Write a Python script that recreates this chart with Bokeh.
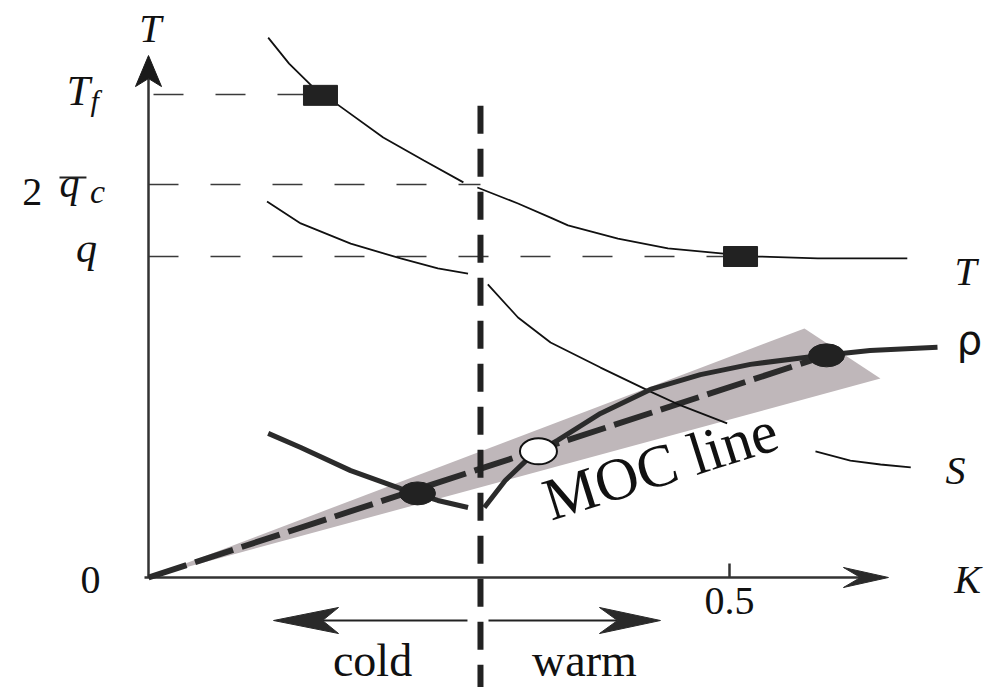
from bokeh.plotting import figure
from bokeh.models import Range1d
from bokeh.core.properties import value
from bokeh.embed import file_html
from bokeh.resources import INLINE

# ---------------- data (K on x, T on y; q = 1) ----------------
level_Tf = 1.505
level_2qc = 1.224
level_q = 1.000
K_boundary = 0.2857          # cold / warm boundary (vertical dashed line)

K_ticks = [0.5]
K_tick_labels = ["0.5"]

# T curve (thin)
K_T_cold = [0.103, 0.121, 0.142, 0.164, 0.202, 0.237, 0.271]
T_T_cold = [1.682, 1.601, 1.526, 1.470, 1.371, 1.299, 1.231]
K_T_warm = [0.283, 0.318, 0.346, 0.361, 0.404, 0.447, 0.495, 0.524, 0.576, 0.653]
T_T_warm = [1.215, 1.165, 1.121, 1.097, 1.056, 1.025, 1.009, 1.000, 0.994, 0.994]

# S curve (thin)
K_S_cold = [0.102, 0.131, 0.174, 0.217, 0.249, 0.275]
T_S_cold = [1.171, 1.103, 1.040, 0.994, 0.963, 0.947]
K_S_warm = [0.292, 0.318, 0.346, 0.389, 0.432, 0.458, 0.498]
T_S_warm = [0.913, 0.810, 0.732, 0.654, 0.579, 0.536, 0.480]
K_S_far = [0.574, 0.604, 0.630, 0.656]
T_S_far = [0.393, 0.364, 0.352, 0.343]

# rho curve (thick)
K_R_cold = [0.103, 0.131, 0.174, 0.217, 0.249, 0.275]
T_R_cold = [0.449, 0.405, 0.333, 0.277, 0.240, 0.218]
K_R_warm = [0.289, 0.307, 0.324, 0.335, 0.352, 0.389, 0.432, 0.475, 0.518, 0.570, 0.621, 0.679]
T_R_warm = [0.218, 0.302, 0.361, 0.393, 0.427, 0.511, 0.586, 0.632, 0.664, 0.688, 0.707, 0.717]

# markers
K_squares = [0.148, 0.5095]
T_squares = [1.502, 1.000]
K_filled = [0.2315, 0.5835]
T_filled = [0.262, 0.692]
K_open = [0.3356]
T_open = [0.393]

# MOC line and its shaded wedge
K_moc = [0.0, 0.5835]
T_moc = [0.0, 0.692]
K_wedge = [0.0, 0.5645, 0.6299]
T_wedge = [0.0, 0.776, 0.620]

# ---------------- figure ----------------
W, H = 997, 687
x0, x1 = -0.12737, 0.73064
y0, y1 = -0.34268, 1.79751
ux = (x1 - x0) / W   # data units per pixel
uy = (y1 - y0) / H

p = figure(width=W, height=H, x_range=Range1d(x0, x1), y_range=Range1d(y0, y1),
           output_backend="svg", toolbar_location=None, min_border=0,
           x_axis_type=None, y_axis_type=None)
p.grid.visible = False
p.outline_line_color = None
p.background_fill_color = "white"
p.border_fill_color = "white"

SERIF = value("Liberation Serif, serif")

def dart(tx, ty, direction, length, half, notch):
    # arrow head polygon (pixel sizes -> data units)
    if direction == "up":
        return ([tx, tx + half * ux, tx, tx - half * ux],
                [ty, ty - length * uy, ty - notch * uy, ty - length * uy])
    if direction == "right":
        return ([tx, tx - length * ux, tx - notch * ux, tx - length * ux],
                [ty, ty + half * uy, ty, ty - half * uy])
    return ([tx, tx + length * ux, tx + notch * ux, tx + length * ux],
            [ty, ty + half * uy, ty, ty - half * uy])

# wedge
p.patch(K_wedge, T_wedge, fill_color="#bfb7ba", line_color=None)

# guide dashed lines
p.line([0, K_squares[0] - 16 * ux], [level_Tf, level_Tf], line_color="#3a3a3a",
       line_width=1.5, line_dash="30 32", line_dash_offset=-5)
p.line([0, K_boundary], [level_2qc, level_2qc], line_color="#3a3a3a",
       line_width=1.5, line_dash="30 32")
p.line([0, K_squares[1] - 16 * ux], [level_q, level_q], line_color="#3a3a3a",
       line_width=1.5, line_dash="30 32")

# axes
p.line([0, 0], [0, 1.626 - 23 * uy], line_color="#333333", line_width=2.5)
p.line([-4 * ux, 0.6368 - 28 * ux], [0, 0], line_color="#333333", line_width=2.5)
xs, ys = dart(0, 1.626, "up", 31, 13, 23)
p.patch(xs, ys, fill_color="#1a1a1a", line_color="#1a1a1a", line_width=1)
xs, ys = dart(0.6368, 0, "right", 45, 10, 28)
p.patch(xs, ys, fill_color="#2a2a2a", line_color="#2a2a2a", line_width=1)
p.segment(x0=K_ticks, y0=[0] * len(K_ticks), x1=K_ticks, y1=[14 * uy] * len(K_ticks),
          line_color="#333333", line_width=2.5)

# MOC dashed line
p.line(K_moc, T_moc, line_color="#2b2b2b", line_width=6, line_dash="40 9")

# curves
for kk, tt in [(K_T_cold, T_T_cold), (K_T_warm, T_T_warm),
               (K_S_cold, T_S_cold), (K_S_warm, T_S_warm), (K_S_far, T_S_far)]:
    p.line(kk, tt, line_color="#111111", line_width=1.8)
for kk, tt in [(K_R_cold, T_R_cold), (K_R_warm, T_R_warm)]:
    p.line(kk, tt, line_color="#2b2b2b", line_width=5)

# vertical boundary dashed line
p.line([K_boundary, K_boundary], [1.470, y0 - 0.05], line_color="#222222",
       line_width=6, line_dash="28 15")

# markers
p.rect(K_squares, T_squares, width=34, height=20, width_units="screen",
       height_units="screen", fill_color="#222222", line_color="#222222")
p.ellipse(K_filled, T_filled, width=36, height=23, width_units="screen",
          height_units="screen", fill_color="#222222", line_color="#222222")
p.ellipse(K_open, T_open, width=37, height=26, width_units="screen",
          height_units="screen", fill_color="white", line_color="#111111", line_width=2)

# cold / warm arrows
ya = -0.134
p.line([0.1497, 0.2745], [ya, ya], line_color="#222222", line_width=2)
p.line([0.2926, 0.4036], [ya, ya], line_color="#222222", line_width=2)
xs, ys = dart(0.1076, ya, "left", 65, 13, 49)
p.patch(xs, ys, fill_color="#2a2a2a", line_color="#2a2a2a")
xs, ys = dart(0.4406, ya, "right", 61, 13, 43)
p.patch(xs, ys, fill_color="#2a2a2a", line_color="#2a2a2a")

# ---------------- texts ----------------
def txt(x, y, s, size, style="normal", align="center", font=SERIF, angle=0.0):
    p.text(x=[x], y=[y], text=[s], text_font=font, text_font_size=f"{size}px",
           text_font_style=style, text_align=align, text_baseline="middle",
           text_color="#111111", angle=angle)

txt(0.0017, 1.709, "T", 40, "italic")                     # y-axis name
txt(-0.0602, 1.516, "T", 42, "italic")                    # T_f
txt(-0.0499, 1.486, "f", 30, "italic", align="left")
txt(-0.1000, 1.202, "2", 40)                              # 2 q_c
txt(-0.0680, 1.226, "q", 40, "italic")
txt(-0.0439, 1.201, "c", 34, "italic")
p.line([-0.0766, -0.0534], [1.246, 1.246], line_color="#222222", line_width=2)
txt(-0.0534, 1.025, "q", 42, "italic")                   # q
txt(-0.0499, -0.0093, "0", 40)                            # origin
for kt, lab in zip(K_ticks, K_tick_labels):
    txt(kt, -0.0717, lab, 40)
txt(0.7048, -0.0047, "K", 40, "italic")
txt(0.7031, 0.954, "T", 40, "italic")
txt(0.7065, 0.741, "ρ", 40, font=value("DejaVu Sans"))
txt(0.6945, 0.333, "S", 40, "italic")
txt(0.1928, -0.259, "cold", 46)
txt(0.3752, -0.259, "warm", 46)
txt(0.4406, 0.349, "MOC line", 60, angle=0.305)

open("out.html", "w").write(file_html(p, INLINE))
